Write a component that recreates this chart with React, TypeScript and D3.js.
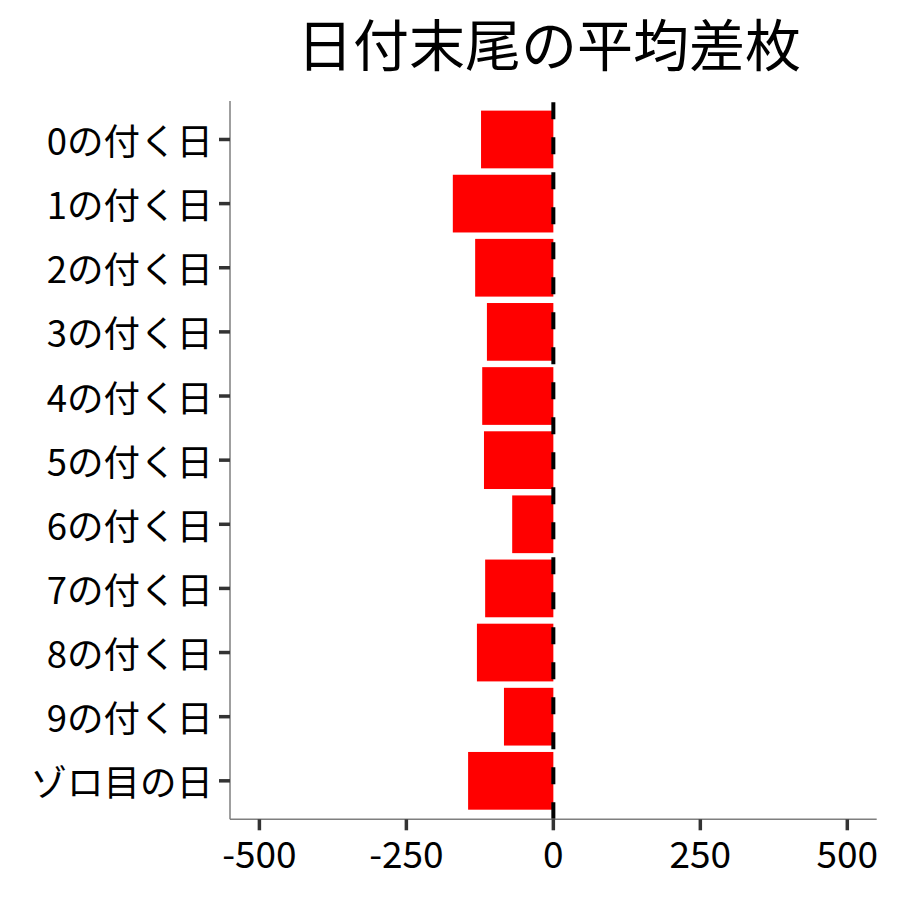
import React from "react";
import * as d3 from "d3";

const categories: string[] = [
  "0の付く日",
  "1の付く日",
  "2の付く日",
  "3の付く日",
  "4の付く日",
  "5の付く日",
  "6の付く日",
  "7の付く日",
  "8の付く日",
  "9の付く日",
  "ゾロ目の日",
];
const values: number[] = [-123, -171, -133, -113, -121, -118, -70, -116, -130, -84, -145];
const xTicks: number[] = [-500, -250, 0, 250, 500];
const title = "日付末尾の平均差枚";

const FONT = "'Noto Sans CJK JP', 'Noto Sans', sans-serif";

export default function App() {
  const W = 900;
  const H = 900;
  const left = 230;
  const right = 876.7;
  const top = 101;
  const bottom = 819.3;

  const x = d3.scaleLinear().domain([-550, 550]).range([left, right]);
  const y = d3.scalePoint<string>().domain(categories).range([top, bottom]).padding(0.6);
  const barH = y.step() * 0.9;

  return (
    <div style={{ position: "absolute", left: 0, top: 0 }}>
      <svg width={W} height={H} style={{ display: "block", background: "#fff" }}>
        <rect x={0} y={0} width={W} height={H} fill="#fff" />
        <text
          x={549}
          y={66}
          textAnchor="middle"
          fontFamily={FONT}
          fontSize={56}
          fill="#000"
        >
          {title}
        </text>
        {categories.map((c, i) => {
          const v = values[i];
          const cy = y(c) as number;
          return (
            <rect
              key={c}
              x={x(Math.min(0, v))}
              y={cy - barH / 2}
              width={Math.abs(x(v) - x(0))}
              height={barH}
              fill="#ff0000"
            />
          );
        })}
        <line
          x1={x(0)}
          x2={x(0)}
          y1={bottom}
          y2={top}
          stroke="#000"
          strokeWidth={4}
          strokeDasharray="17 18"
        />
        <line x1={left} x2={left} y1={top} y2={bottom} stroke="#7f7f7f" strokeWidth={1.5} />
        <line x1={left} x2={right} y1={bottom} y2={bottom} stroke="#7f7f7f" strokeWidth={1.5} />
        {categories.map((c) => {
          const cy = y(c) as number;
          return (
            <g key={"t" + c}>
              <line x1={left - 11} x2={left} y1={cy} y2={cy} stroke="#333" strokeWidth={3.5} />
              <text
                x={left - 17}
                y={cy}
                textAnchor="end"
                dominantBaseline="central"
                fontFamily={FONT}
                fontSize={36.5}
                fill="#000"
              >
                {c}
              </text>
            </g>
          );
        })}
        {xTicks.map((t) => (
          <g key={"x" + t}>
            <line x1={x(t)} x2={x(t)} y1={bottom} y2={bottom + 11} stroke="#333" strokeWidth={3.5} />
            <text
              x={x(t)}
              y={868}
              textAnchor="middle"
              fontFamily={FONT}
              fontSize={37}
              fill="#000"
            >
              {t}
            </text>
          </g>
        ))}
      </svg>
    </div>
  );
}
